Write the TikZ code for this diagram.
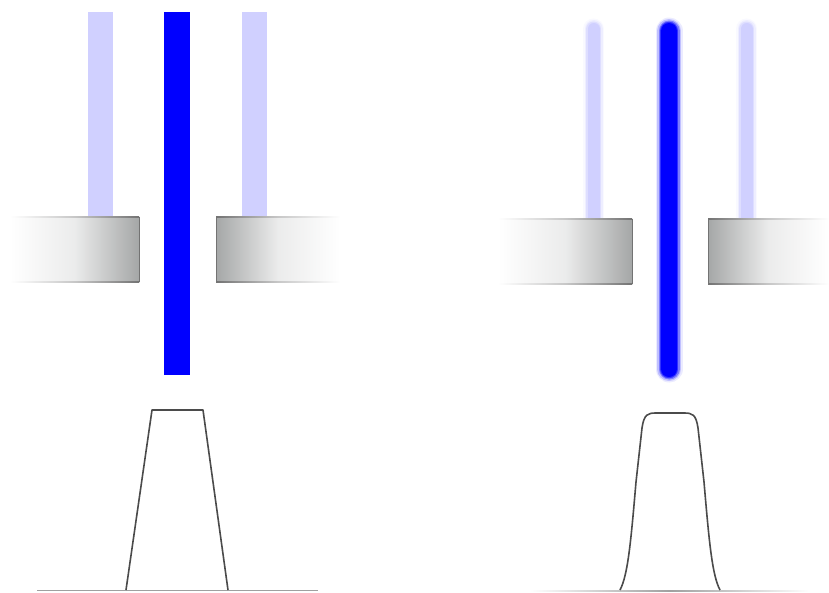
\documentclass[tikz,border=0pt]{standalone}
\begin{document}
\begin{tikzpicture}[x=1pt,y=-1pt,
  profile/.style={draw=profgray,line width=1.6pt,line join=round},
  baseline/.style={draw=basegray,line width=1pt},
  edgegray/.style={draw=edgecol,line width=0.9pt},
  blockL/.style={left color=white,right color=blockgray,middle color=white!78!blockgray},
  blockR/.style={right color=white,left color=blockgray,middle color=white!78!blockgray},
  edgeL/.style={left color=white,right color=edgecol,middle color=white!60!edgecol},
  edgeR/.style={right color=white,left color=edgecol,middle color=white!60!edgecol}]
\definecolor{faint}{RGB}{208,208,255}
\definecolor{beamblue}{RGB}{0,0,255}
\definecolor{profgray}{RGB}{75,75,75}
\definecolor{basegray}{RGB}{160,160,160}
\definecolor{blockgray}{RGB}{165,167,167}
\definecolor{edgecol}{RGB}{115,115,115}
\useasboundingbox[fill=white] (0,0) rectangle (829,592);

% ---------- left panel: sharp beams ----------
\fill[faint] (88,12) rectangle (113,217);
\fill[faint] (242,12) rectangle (267,217);
\fill[beamblue] (164,12) rectangle (190,375);

% left block
\shade[blockL] (10,217) rectangle (139,282);
\shade[edgeL] (10,216.5) rectangle (139,217.5);
\shade[edgeL] (10,281.5) rectangle (139,282.5);
\draw[edgegray] (139,217) -- (139,282);
% right block
\shade[blockR] (216,217) rectangle (340,282);
\shade[edgeR] (216,216.5) rectangle (340,217.5);
\shade[edgeR] (216,281.5) rectangle (340,282.5);
\draw[edgegray] (216,217) -- (216,282);

% trapezoid profile
\draw[baseline] (37,590.5) -- (318,590.5);
\draw[profile] (126,590) -- (152,410) -- (203,410) -- (228,590);

% ---------- right panel: blurred beams ----------
\foreach \xx in {593.5,746.5}{
  \foreach \w/\o in {21/0.12,18/0.25,15/0.5,12/1}{
    \draw[faint,line width=\w pt,line cap=round,opacity=\o] (\xx,29) -- (\xx,230);
  }
}
\foreach \w/\o in {27/0.08,24/0.18,21/0.35,18.5/0.6,16/1}{
  \draw[beamblue,line width=\w pt,line cap=round,opacity=\o] (669,31) -- (669,369);
}

% right-panel blocks
\shade[blockL] (498,219) rectangle (632,284);
\shade[edgeL] (498,218.5) rectangle (632,219.5);
\shade[edgeL] (498,283.5) rectangle (632,284.5);
\draw[edgegray] (632,219) -- (632,284);
\shade[blockR] (708,219) rectangle (829,284);
\shade[edgeR] (708,218.5) rectangle (829,219.5);
\shade[edgeR] (708,283.5) rectangle (829,284.5);
\draw[edgegray] (708,219) -- (708,284);

% smooth profile
\shade[left color=white,right color=white,middle color=basegray] (530,590) rectangle (810,591.2);
\draw[profile] (620,590) .. controls (628,575) and (631,540) .. (636,482)
  -- (642,428) .. controls (644,414) and (648,413) .. (656,413)
  -- (684,413) .. controls (692,413) and (696,414) .. (698,428)
  -- (704,482) .. controls (709,540) and (712,575) .. (720,590);
\end{tikzpicture}
\end{document}
